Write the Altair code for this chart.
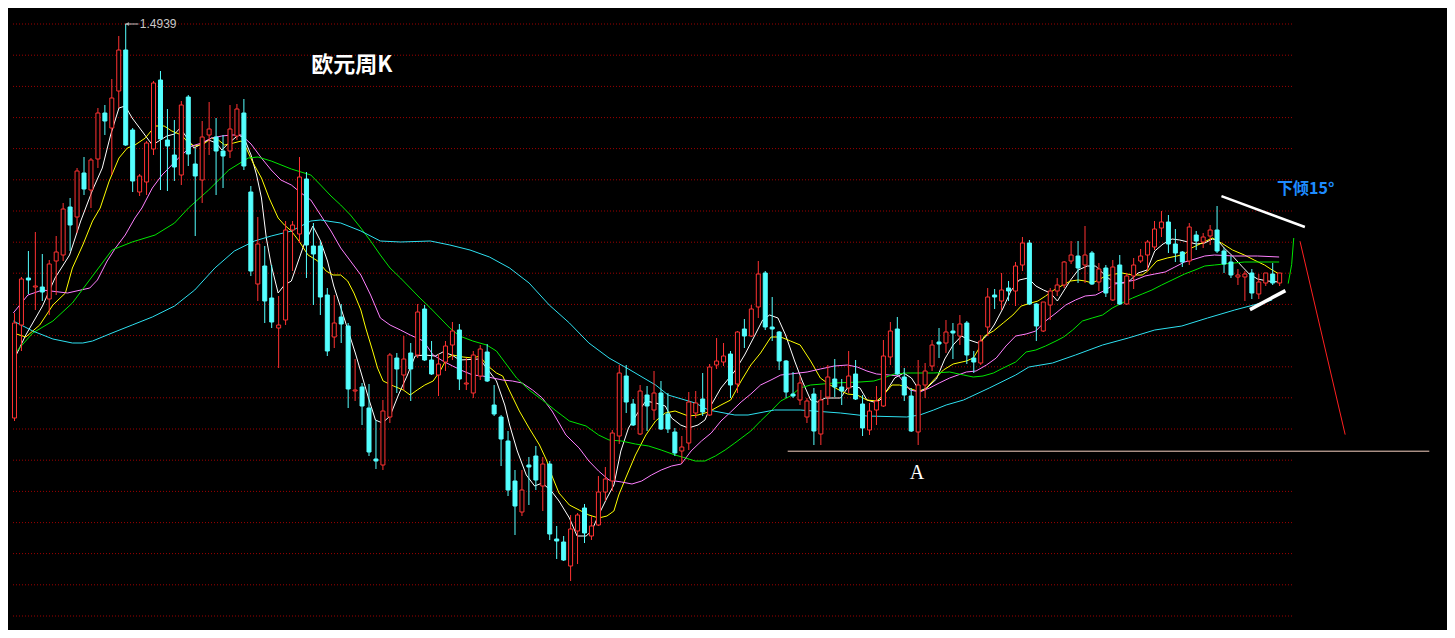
import altair as alt
import pandas as pd

# ---------------- data (EUR weekly candles) ----------------
weeks = list(range(183))

open_ = [1.2969, 1.3434, 1.3669, 1.3624, 1.3624, 1.3564, 1.3754, 1.3784, 1.4024, 1.3974,
         1.4194, 1.4109, 1.4264, 1.4494, 1.4419, 1.4604, 1.4809, 1.4409, 1.4099, 1.4149,
         1.4314, 1.4659, 1.4359, 1.4284, 1.4184, 1.4574, 1.4239, 1.4159, 1.4384, 1.4374,
         1.4304, 1.4304, 1.4379, 1.4494, 1.4099, 1.3639, 1.3729, 1.3569, 1.3419, 1.3459,
         1.3909, 1.3889, 1.4164, 1.3829, 1.3829, 1.3584, 1.3374, 1.3474, 1.3429, 1.3104,
         1.3124, 1.3019, 1.2764, 1.2734, 1.2974, 1.3269, 1.3184, 1.3294, 1.3284, 1.3514,
         1.3259, 1.3184, 1.3249, 1.3334, 1.3409, 1.3139, 1.3094, 1.3179, 1.3299, 1.3034,
         1.2974, 1.2854, 1.2654, 1.2499, 1.2734, 1.2779, 1.2629, 1.2739, 1.2364, 1.2349,
         1.2229, 1.2404, 1.2519, 1.2379, 1.2434, 1.2599, 1.2654, 1.2879, 1.3179, 1.3039,
         1.2889, 1.3084, 1.3009, 1.3094, 1.2989, 1.2899, 1.2804, 1.2844, 1.2994, 1.3064,
         1.2984, 1.3234, 1.3249, 1.3289, 1.3139, 1.3414, 1.3379, 1.3524, 1.3694, 1.3424,
         1.3399, 1.3254, 1.3089, 1.3059, 1.2974, 1.3089, 1.2889, 1.3074, 1.3164, 1.3124,
         1.3119, 1.3189, 1.3039, 1.2909, 1.3009, 1.3029, 1.3274, 1.3414, 1.3174, 1.3079,
         1.2899, 1.3134, 1.3229, 1.3349, 1.3344, 1.3404, 1.3379, 1.3444, 1.3269, 1.3244,
         1.3424, 1.3584, 1.3554, 1.3619, 1.3604, 1.3734, 1.3844, 1.3539, 1.3404, 1.3534,
         1.3604, 1.3634, 1.3754, 1.3779, 1.3734, 1.3794, 1.3649, 1.3719, 1.3559, 1.3734,
         1.3539, 1.3679, 1.3754, 1.3784, 1.3824, 1.3919, 1.3949, 1.3839, 1.3799, 1.3754,
         1.3884, 1.3849, 1.3879, 1.3909, 1.3804, 1.3749, 1.3674, 1.3674, 1.3694, 1.3589,
         1.3644, 1.3689, 1.3644]

close_ = [1.3444, 1.3664, 1.3659, 1.3629, 1.3599, 1.3739, 1.3799, 1.4014, 1.3934, 1.4204,
          1.4114, 1.4259, 1.4494, 1.4454, 1.4569, 1.4809, 1.4334, 1.4154, 1.4179, 1.4344,
          1.4644, 1.4364, 1.4329, 1.4224, 1.4534, 1.4289, 1.4179, 1.4374, 1.4414, 1.4304,
          1.4279, 1.4414, 1.4514, 1.4229, 1.3704, 1.3839, 1.3554, 1.3449, 1.3434, 1.3909,
          1.3934, 1.4174, 1.3834, 1.3789, 1.3574, 1.3304, 1.3444, 1.3439, 1.3114, 1.3109,
          1.3029, 1.2799, 1.2754, 1.3004, 1.3284, 1.3214, 1.3264, 1.3214, 1.3499, 1.3259,
          1.3189, 1.3239, 1.3329, 1.3404, 1.3164, 1.3144, 1.3284, 1.3314, 1.3154, 1.2989,
          1.2864, 1.2609, 1.2529, 1.2609, 1.2724, 1.2659, 1.2739, 1.2389, 1.2354, 1.2259,
          1.2414, 1.2484, 1.2394, 1.2429, 1.2599, 1.2664, 1.2894, 1.3194, 1.3049, 1.2934,
          1.3104, 1.3029, 1.3094, 1.2914, 1.2914, 1.2794, 1.2824, 1.3049, 1.3044, 1.2999,
          1.3224, 1.3254, 1.3279, 1.3134, 1.3399, 1.3379, 1.3514, 1.3689, 1.3424, 1.3414,
          1.3254, 1.3099, 1.3079, 1.3144, 1.3054, 1.2904, 1.3059, 1.3174, 1.3124, 1.3104,
          1.3179, 1.3064, 1.2919, 1.3004, 1.3054, 1.3279, 1.3404, 1.3189, 1.3084, 1.2904,
          1.3134, 1.3204, 1.3334, 1.3339, 1.3399, 1.3394, 1.3439, 1.3284, 1.3249, 1.3354,
          1.3574, 1.3574, 1.3609, 1.3604, 1.3729, 1.3844, 1.3539, 1.3429, 1.3549, 1.3604,
          1.3634, 1.3749, 1.3784, 1.3719, 1.3784, 1.3639, 1.3714, 1.3594, 1.3724, 1.3539,
          1.3679, 1.3734, 1.3779, 1.3849, 1.3914, 1.3949, 1.3839, 1.3794, 1.3749, 1.3924,
          1.3854, 1.3874, 1.3909, 1.3804, 1.3739, 1.3684, 1.3684, 1.3689, 1.3594, 1.3649,
          1.3694, 1.3644, 1.3694]

high_ = [1.3494, 1.3674, 1.3804, 1.3899, 1.3789, 1.3759, 1.3879, 1.4044, 1.4069, 1.4219,
         1.4274, 1.4269, 1.4519, 1.4534, 1.4664, 1.4879, 1.4939, 1.4419, 1.4189, 1.4354,
         1.4654, 1.4704, 1.4514, 1.4459, 1.4554, 1.4584, 1.4319, 1.4454, 1.4549, 1.4469,
         1.4384, 1.4534, 1.4539, 1.4564, 1.4129, 1.3974, 1.3829, 1.3734, 1.3579, 1.3954,
         1.3954, 1.4274, 1.4199, 1.3944, 1.3854, 1.3619, 1.3584, 1.3539, 1.3444, 1.3264,
         1.3144, 1.3139, 1.2959, 1.3059, 1.3294, 1.3294, 1.3379, 1.3344, 1.3539, 1.3534,
         1.3354, 1.3289, 1.3354, 1.3449, 1.3439, 1.3269, 1.3304, 1.3334, 1.3339, 1.3134,
         1.2984, 1.2904, 1.2709, 1.2709, 1.2774, 1.2829, 1.2774, 1.2754, 1.2429, 1.2379,
         1.2484, 1.2494, 1.2539, 1.2479, 1.2679, 1.2724, 1.2909, 1.3234, 1.3234, 1.3064,
         1.3134, 1.3129, 1.3204, 1.3154, 1.3094, 1.2919, 1.2879, 1.3099, 1.3104, 1.3194,
         1.3239, 1.3369, 1.3344, 1.3304, 1.3404, 1.3464, 1.3534, 1.3754, 1.3704, 1.3574,
         1.3404, 1.3259, 1.3199, 1.3179, 1.3069, 1.3119, 1.3109, 1.3234, 1.3264, 1.3164,
         1.3304, 1.3259, 1.3084, 1.3044, 1.3129, 1.3359, 1.3449, 1.3474, 1.3219, 1.3119,
         1.3259, 1.3244, 1.3359, 1.3419, 1.3459, 1.3444, 1.3484, 1.3454, 1.3304, 1.3384,
         1.3619, 1.3614, 1.3694, 1.3654, 1.3749, 1.3874, 1.3859, 1.3544, 1.3549, 1.3619,
         1.3669, 1.3754, 1.3854, 1.3854, 1.3929, 1.3804, 1.3744, 1.3734, 1.3759, 1.3784,
         1.3694, 1.3769, 1.3814, 1.3859, 1.3954, 1.4004, 1.3984, 1.3914, 1.3804, 1.3944,
         1.3904, 1.3894, 1.3934, 1.4029, 1.3819, 1.3779, 1.3714, 1.3704, 1.3714, 1.3689,
         1.3694, 1.3744, 1.3694]

low_ = [1.2954, 1.3304, 1.3589, 1.3509, 1.3554, 1.3484, 1.3584, 1.3754, 1.3804, 1.3894,
        1.4084, 1.4019, 1.4219, 1.4384, 1.4184, 1.4519, 1.4329, 1.4099, 1.4079, 1.4084,
        1.4284, 1.4109, 1.4104, 1.4154, 1.4134, 1.4229, 1.3879, 1.4044, 1.4284, 1.4084,
        1.4119, 1.4269, 1.4359, 1.4209, 1.3679, 1.3554, 1.3444, 1.3419, 1.3219, 1.3434,
        1.3704, 1.3844, 1.3669, 1.3534, 1.3484, 1.3279, 1.3319, 1.3344, 1.3019, 1.3054,
        1.2934, 1.2779, 1.2714, 1.2709, 1.2944, 1.3094, 1.3109, 1.3054, 1.3269, 1.3254,
        1.3184, 1.3079, 1.3204, 1.3259, 1.3109, 1.3109, 1.3069, 1.3159, 1.3149, 1.2979,
        1.2729, 1.2579, 1.2384, 1.2479, 1.2534, 1.2609, 1.2504, 1.2359, 1.2264, 1.2254,
        1.2154, 1.2239, 1.2344, 1.2359, 1.2429, 1.2554, 1.2604, 1.2839, 1.2994, 1.2929,
        1.2884, 1.2904, 1.2959, 1.2909, 1.2894, 1.2779, 1.2744, 1.2809, 1.2969, 1.2979,
        1.2979, 1.3214, 1.3229, 1.3069, 1.3094, 1.3319, 1.3374, 1.3469, 1.3409, 1.3354,
        1.3209, 1.3069, 1.3069, 1.3034, 1.2944, 1.2834, 1.2834, 1.3034, 1.3074, 1.3034,
        1.3094, 1.3059, 1.2879, 1.2884, 1.2934, 1.3024, 1.3234, 1.3184, 1.3054, 1.2899,
        1.2834, 1.3069, 1.3204, 1.3269, 1.3294, 1.3264, 1.3334, 1.3239, 1.3194, 1.3234,
        1.3379, 1.3514, 1.3509, 1.3554, 1.3529, 1.3704, 1.3534, 1.3354, 1.3399, 1.3459,
        1.3579, 1.3619, 1.3739, 1.3644, 1.3644, 1.3634, 1.3604, 1.3574, 1.3554, 1.3534,
        1.3534, 1.3614, 1.3744, 1.3704, 1.3809, 1.3874, 1.3794, 1.3749, 1.3724, 1.3734,
        1.3809, 1.3819, 1.3834, 1.3794, 1.3694, 1.3669, 1.3634, 1.3554, 1.3564, 1.3564,
        1.3629, 1.3634, 1.3629]

# moving averages as (week, price) readings
ma5 = [(-0.1, 1.3254), (1.7, 1.3384), (4.1, 1.3529), (5.9, 1.3669), (8.0, 1.3784), (9.6, 1.3954),
       (11.3, 1.4109), (12.7, 1.4219), (13.9, 1.4384), (15.1, 1.4519), (16.0, 1.4529), (17.0, 1.4469),
       (18.4, 1.4404), (19.9, 1.4334), (22.0, 1.4379), (23.1, 1.4389), (23.9, 1.4419), (24.6, 1.4384),
       (25.9, 1.4319), (28.0, 1.4359), (29.1, 1.4344), (29.9, 1.4309), (30.9, 1.4344), (32.3, 1.4384),
       (33.1, 1.4369), (34.1, 1.4284), (34.9, 1.4184), (35.6, 1.4069), (36.3, 1.3869), (37.0, 1.3734),
       (38.0, 1.3594), (38.9, 1.3634), (39.9, 1.3654), (40.9, 1.3754), (41.7, 1.3834), (43.0, 1.3929),
       (44.1, 1.3854), (45.1, 1.3754), (46.0, 1.3629), (47.4, 1.3479), (49.1, 1.3294), (51.0, 1.3069),
       (52.0, 1.2959), (53.0, 1.2944), (54.1, 1.2979), (55.3, 1.3084), (56.6, 1.3184), (57.7, 1.3279),
       (59.1, 1.3284), (60.6, 1.3279), (61.7, 1.3299), (63.0, 1.3284), (64.1, 1.3259), (67.0, 1.3264),
       (68.0, 1.3219), (69.4, 1.3154), (70.6, 1.3034), (71.3, 1.2934), (72.4, 1.2804), (73.7, 1.2684),
       (74.9, 1.2629), (76.0, 1.2644), (77.3, 1.2604), (78.4, 1.2554), (79.9, 1.2469), (81.0, 1.2379),
       (82.3, 1.2379), (83.1, 1.2404), (84.1, 1.2484), (85.3, 1.2569), (86.3, 1.2634), (87.3, 1.2804),
       (88.4, 1.2919), (89.9, 1.3004), (90.9, 1.3054), (92.3, 1.3044), (93.7, 1.3029), (94.6, 1.2969),
       (95.9, 1.2934), (97.0, 1.2919), (98.4, 1.2934), (99.4, 1.2959), (100.3, 1.3034), (101.7, 1.3119),
       (103.7, 1.3204), (105.1, 1.3284), (106.6, 1.3384), (107.7, 1.3459), (108.7, 1.3484), (109.9, 1.3469),
       (111.0, 1.3384), (112.3, 1.3254), (113.4, 1.3154), (114.6, 1.3059), (115.6, 1.3049), (116.7, 1.3069),
       (118.9, 1.3069), (119.9, 1.3119), (120.9, 1.3129), (121.7, 1.3119), (122.7, 1.3059), (123.7, 1.3049),
       (124.6, 1.3059), (125.6, 1.3109), (126.7, 1.3169), (128.0, 1.3194), (129.1, 1.3169), (130.3, 1.3104),
       (131.3, 1.3119), (132.7, 1.3164), (133.9, 1.3264), (135.1, 1.3334), (136.3, 1.3379), (137.4, 1.3359),
       (138.7, 1.3344), (139.9, 1.3379), (141.0, 1.3434), (142.3, 1.3519), (143.4, 1.3604), (144.6, 1.3659),
       (145.9, 1.3669), (147.0, 1.3629), (148.1, 1.3609), (149.1, 1.3594), (150.1, 1.3554), (151.0, 1.3604),
       (152.0, 1.3659), (153.1, 1.3709), (154.4, 1.3729), (155.6, 1.3729), (156.6, 1.3694), (157.4, 1.3669),
       (158.4, 1.3644), (159.6, 1.3644), (160.6, 1.3659), (161.7, 1.3694), (163.0, 1.3709), (164.1, 1.3804),
       (165.3, 1.3839), (166.6, 1.3864), (167.7, 1.3859), (168.9, 1.3849), (170.1, 1.3839), (171.3, 1.3844),
       (172.4, 1.3864), (173.1, 1.3859), (174.1, 1.3819), (175.3, 1.3779), (176.6, 1.3729), (177.7, 1.3689),
       (178.9, 1.3664), (180.3, 1.3654), (182.0, 1.3649)]

ma10 = [(-0.1, 1.3394), (1.7, 1.3374), (3.7, 1.3434), (5.6, 1.3534), (7.4, 1.3594), (8.4, 1.3719),
        (9.9, 1.3834), (11.3, 1.3954), (12.4, 1.4019), (13.7, 1.4154), (15.1, 1.4269), (16.3, 1.4319),
        (17.4, 1.4334), (18.9, 1.4369), (20.3, 1.4429), (21.6, 1.4429), (22.7, 1.4404), (24.1, 1.4384),
        (25.1, 1.4344), (26.0, 1.4329), (27.3, 1.4339), (28.4, 1.4369), (29.4, 1.4359), (30.3, 1.4334),
        (31.6, 1.4344), (32.7, 1.4354), (33.4, 1.4319), (34.4, 1.4244), (35.6, 1.4169), (36.7, 1.4069),
        (38.0, 1.3969), (38.9, 1.3934), (39.9, 1.3904), (41.0, 1.3854), (42.3, 1.3784), (43.7, 1.3754),
        (44.9, 1.3704), (45.9, 1.3684), (47.0, 1.3684), (48.0, 1.3654), (48.9, 1.3594), (49.9, 1.3509),
        (50.6, 1.3419), (51.6, 1.3304), (52.3, 1.3219), (53.1, 1.3154), (54.6, 1.3129), (56.0, 1.3109),
        (57.0, 1.3084), (58.0, 1.3109), (59.1, 1.3134), (60.3, 1.3154), (61.3, 1.3204), (62.3, 1.3269),
        (63.1, 1.3284), (64.6, 1.3274), (66.0, 1.3269), (67.0, 1.3279), (68.0, 1.3234), (69.4, 1.3194),
        (70.3, 1.3179), (71.3, 1.3104), (72.7, 1.3004), (74.1, 1.2919), (75.6, 1.2834), (76.6, 1.2759),
        (77.4, 1.2679), (78.4, 1.2594), (79.9, 1.2534), (81.3, 1.2509), (82.7, 1.2484), (84.1, 1.2469),
        (85.3, 1.2479), (86.3, 1.2504), (87.0, 1.2584), (88.0, 1.2669), (89.4, 1.2784), (90.9, 1.2884),
        (92.3, 1.2954), (93.7, 1.2994), (95.1, 1.3004), (97.0, 1.2979), (98.4, 1.2984), (99.9, 1.2999),
        (101.7, 1.3034), (103.1, 1.3059), (104.6, 1.3154), (106.0, 1.3234), (107.4, 1.3294), (108.9, 1.3374),
        (110.3, 1.3374), (111.7, 1.3354), (113.1, 1.3334), (114.6, 1.3254), (116.0, 1.3169), (117.4, 1.3134),
        (118.7, 1.3109), (119.9, 1.3089), (121.3, 1.3084), (122.7, 1.3059), (124.1, 1.3054), (125.1, 1.3084),
        (126.3, 1.3134), (127.4, 1.3134), (128.7, 1.3119), (129.9, 1.3104), (131.0, 1.3109), (132.3, 1.3159),
        (133.7, 1.3209), (135.1, 1.3239), (137.0, 1.3254), (138.0, 1.3269), (138.7, 1.3309), (139.6, 1.3379),
        (140.9, 1.3404), (142.3, 1.3444), (143.7, 1.3484), (144.9, 1.3529), (146.3, 1.3544), (147.3, 1.3554),
        (148.4, 1.3579), (149.6, 1.3609), (150.9, 1.3634), (152.0, 1.3654), (153.1, 1.3659), (154.1, 1.3654),
        (155.1, 1.3644), (156.0, 1.3659), (157.0, 1.3679), (158.4, 1.3689), (159.4, 1.3694), (160.9, 1.3684),
        (162.3, 1.3684), (163.1, 1.3704), (164.4, 1.3754), (165.9, 1.3769), (167.3, 1.3779), (168.4, 1.3789),
        (169.4, 1.3819), (170.9, 1.3844), (172.4, 1.3869), (173.7, 1.3844), (175.3, 1.3809), (177.0, 1.3784),
        (178.4, 1.3759), (179.9, 1.3734), (181.0, 1.3709), (182.0, 1.3689)]

ma20 = [(-0.1, 1.3494), (2.0, 1.3584), (4.1, 1.3609), (7.7, 1.3594), (10.9, 1.3619), (12.0, 1.3659),
        (13.4, 1.3754), (14.6, 1.3819), (16.0, 1.3884), (17.4, 1.3969), (18.4, 1.4019), (19.9, 1.4119),
        (21.3, 1.4184), (22.7, 1.4234), (24.1, 1.4284), (25.6, 1.4329), (27.0, 1.4344), (28.4, 1.4369),
        (29.9, 1.4379), (31.3, 1.4384), (32.7, 1.4384), (34.1, 1.4339), (35.6, 1.4269), (37.0, 1.4209),
        (38.4, 1.4159), (39.9, 1.4134), (41.3, 1.4094), (42.7, 1.4059), (44.1, 1.3984), (45.6, 1.3904),
        (47.0, 1.3819), (48.4, 1.3754), (49.9, 1.3684), (51.3, 1.3584), (52.7, 1.3469), (54.1, 1.3434),
        (55.6, 1.3409), (57.0, 1.3384), (58.9, 1.3354), (60.3, 1.3284), (61.7, 1.3254), (63.1, 1.3229),
        (64.6, 1.3204), (66.0, 1.3184), (67.4, 1.3179), (68.9, 1.3169), (70.3, 1.3159), (71.7, 1.3154),
        (73.1, 1.3144), (74.6, 1.3109), (76.0, 1.3069), (77.4, 1.3004), (78.4, 1.2944), (79.4, 1.2884),
        (81.3, 1.2819), (82.7, 1.2754), (84.1, 1.2704), (85.6, 1.2659), (87.4, 1.2649), (88.9, 1.2639),
        (90.3, 1.2654), (91.7, 1.2684), (93.1, 1.2709), (94.6, 1.2729), (96.0, 1.2739), (97.4, 1.2804),
        (98.9, 1.2854), (100.3, 1.2894), (101.7, 1.2954), (103.1, 1.2999), (104.6, 1.3049), (106.0, 1.3089),
        (107.4, 1.3134), (108.9, 1.3159), (110.3, 1.3184), (111.7, 1.3189), (114.1, 1.3199), (116.0, 1.3214),
        (118.0, 1.3229), (119.9, 1.3234), (121.3, 1.3224), (122.7, 1.3204), (124.1, 1.3189), (125.9, 1.3184),
        (127.3, 1.3179), (128.9, 1.3109), (130.3, 1.3099), (131.7, 1.3119), (133.1, 1.3144), (134.6, 1.3169),
        (137.0, 1.3199), (138.4, 1.3204), (139.9, 1.3234), (141.3, 1.3269), (142.7, 1.3329), (144.1, 1.3379),
        (145.6, 1.3389), (147.0, 1.3404), (148.4, 1.3454), (149.9, 1.3494), (151.3, 1.3534), (152.7, 1.3559),
        (154.1, 1.3579), (155.6, 1.3584), (157.0, 1.3609), (158.4, 1.3639), (159.9, 1.3649), (161.3, 1.3659),
        (162.7, 1.3679), (164.1, 1.3689), (165.6, 1.3699), (167.0, 1.3724), (168.4, 1.3749), (169.9, 1.3764),
        (171.3, 1.3779), (172.7, 1.3784), (175.6, 1.3779), (178.9, 1.3779), (182.0, 1.3774)]

ma30 = [(-0.1, 1.3284), (2.7, 1.3394), (5.6, 1.3454), (8.4, 1.3544), (11.3, 1.3679), (14.1, 1.3809),
        (17.0, 1.3849), (20.3, 1.3884), (23.1, 1.3944), (25.1, 1.4019), (28.0, 1.4109), (30.9, 1.4209),
        (33.7, 1.4269), (35.1, 1.4274), (37.0, 1.4254), (39.9, 1.4214), (42.7, 1.4184), (44.1, 1.4134),
        (45.6, 1.4079), (47.0, 1.4034), (48.4, 1.3984), (49.9, 1.3919), (51.3, 1.3854), (52.7, 1.3784),
        (54.1, 1.3719), (55.6, 1.3669), (57.0, 1.3619), (58.4, 1.3569), (59.9, 1.3519), (61.3, 1.3469),
        (62.7, 1.3419), (64.1, 1.3379), (66.0, 1.3354), (68.0, 1.3334), (69.4, 1.3304), (70.9, 1.3234),
        (72.3, 1.3169), (74.1, 1.3109), (76.0, 1.3059), (78.0, 1.3004), (79.9, 1.2954), (82.3, 1.2929),
        (84.1, 1.2884), (85.6, 1.2859), (87.4, 1.2854), (89.4, 1.2839), (91.3, 1.2829), (93.1, 1.2809),
        (95.1, 1.2784), (96.6, 1.2769), (98.0, 1.2754), (99.4, 1.2754), (100.9, 1.2779), (102.3, 1.2809),
        (103.7, 1.2844), (106.0, 1.2904), (107.4, 1.2954), (108.9, 1.3004), (110.3, 1.3054), (111.7, 1.3079),
        (113.1, 1.3119), (114.6, 1.3134), (118.0, 1.3144), (121.7, 1.3149), (123.7, 1.3154), (125.1, 1.3169),
        (126.6, 1.3189), (128.4, 1.3194), (132.3, 1.3194), (134.6, 1.3199), (136.6, 1.3184), (138.0, 1.3174),
        (139.4, 1.3179), (140.9, 1.3194), (142.3, 1.3219), (144.1, 1.3249), (145.6, 1.3299), (147.0, 1.3309),
        (148.4, 1.3329), (149.9, 1.3354), (151.0, 1.3374), (152.3, 1.3409), (153.7, 1.3454), (155.1, 1.3469),
        (156.6, 1.3484), (158.0, 1.3519), (159.4, 1.3544), (160.9, 1.3569), (162.3, 1.3589), (163.7, 1.3609),
        (165.1, 1.3634), (166.6, 1.3659), (168.4, 1.3689), (169.9, 1.3709), (171.3, 1.3729), (172.7, 1.3734),
        (174.1, 1.3739), (177.0, 1.3749), (182.0, 1.3749)]

ma60 = [(-0.1, 1.3454), (2.7, 1.3404), (5.6, 1.3364), (8.4, 1.3344), (9.9, 1.3344), (11.3, 1.3354),
        (14.1, 1.3394), (17.0, 1.3434), (19.9, 1.3474), (23.1, 1.3529), (26.0, 1.3609), (28.9, 1.3719),
        (31.7, 1.3804), (34.6, 1.3854), (37.0, 1.3879), (39.9, 1.3904), (42.7, 1.3954), (44.1, 1.3959),
        (47.0, 1.3944), (49.9, 1.3904), (52.7, 1.3854), (55.6, 1.3849), (59.9, 1.3854), (62.7, 1.3834),
        (65.6, 1.3809), (68.4, 1.3774), (71.3, 1.3719), (74.1, 1.3644), (77.0, 1.3534), (79.9, 1.3444),
        (82.7, 1.3344), (85.6, 1.3269), (88.4, 1.3214), (92.3, 1.3134), (94.1, 1.3084), (98.0, 1.3044),
        (99.9, 1.3009), (103.7, 1.2984), (105.6, 1.2984), (109.4, 1.3009), (113.1, 1.3009), (118.9, 1.2994),
        (122.7, 1.2979), (128.4, 1.2974), (130.3, 1.2984), (132.3, 1.3009), (134.1, 1.3034), (136.6, 1.3059),
        (140.3, 1.3119), (144.1, 1.3184), (146.0, 1.3224), (149.4, 1.3244), (152.7, 1.3284), (156.6, 1.3334),
        (160.3, 1.3369), (164.1, 1.3409), (168.0, 1.3429), (171.7, 1.3469), (175.6, 1.3509), (179.4, 1.3544),
        (181.0, 1.3559)]

ma_names = ["MA5", "MA10", "MA20", "MA30", "MA60"]
ma_colors = ["#FFFFFF", "#FFFF00", "#FF80FF", "#00E600", "#2EE0F0"]

# horizontal dotted grid levels
grid_levels = [1.4939, 1.4783, 1.4627, 1.4471, 1.4316, 1.4160, 1.4004, 1.3848, 1.3693, 1.3537,
               1.3381, 1.3225, 1.3070, 1.2914, 1.2758, 1.2602, 1.2446, 1.2291, 1.2135, 1.1979]
grid_span = (-0.14, 184.1)

# drawn annotations (week, price)
trend_top = [(173.7, 1.4078), (185.7, 1.3924)]
trend_bottom = [(177.8, 1.3511), (182.9, 1.3606)]
proj_up = [(183.3, 1.3641), (183.8, 1.3736), (184.1, 1.3869)]
proj_down = [(185.0, 1.3853), (191.5, 1.2886)]
support_a = [(111.3, 1.2803), (203.6, 1.2803)]
peak_arrow = [(16.0, 1.4939), (17.9, 1.4939)]

title_text = ("欧元周K", 48.6, 1.4734)
tilt_text = ("下倾15°", 181.7, 1.4114)
a_text = ("A", 129.9, 1.2694)
peak_text = ("1.4939", 18.1, 1.4939)

RED = "#FF3232"
CYAN = "#54FFFF"

# ---------------- chart ----------------
xs = alt.Scale(domain=[-1 / 7, 1438 / 7], nice=False, zero=False)
ys = alt.Scale(domain=[1.1909, 1.5019], nice=False, zero=False)


def X(f="week"):
    return alt.X(f"{f}:Q", scale=xs, axis=None)


def Y(f="price"):
    return alt.Y(f"{f}:Q", scale=ys, axis=None)


def pts(pairs):
    return pd.DataFrame(pairs, columns=["week", "price"])


candles = pd.DataFrame({"week": weeks, "open": open_, "close": close_,
                        "high": high_, "low": low_})
candles["dir"] = ["up" if c >= o else "down" for o, c in zip(open_, close_)]
up_filter = "datum.dir == 'up'"
down_filter = "datum.dir == 'down'"

grid_df = pd.DataFrame({"price": grid_levels, "x0": grid_span[0], "x1": grid_span[1]})
grid = alt.Chart(grid_df).mark_rule(color="#A00000", strokeWidth=1, strokeDash=[1, 2]).encode(
    x=X("x0"), x2="x1:Q", y=Y())

wicks_up = alt.Chart(candles).transform_filter(up_filter).mark_rule(
    color=RED, strokeWidth=1, xOffset=0.5).encode(x=X(), y=Y("low"), y2="high:Q")
wicks_down = alt.Chart(candles).transform_filter(down_filter).mark_rule(
    color=CYAN, strokeWidth=1, xOffset=0.5).encode(x=X(), y=Y("low"), y2="high:Q")

bodies_up = alt.Chart(candles).transform_filter(up_filter).mark_bar(
    width=4, fill="#000000", stroke=RED, strokeWidth=1, xOffset=0.5).encode(
    x=X(), y=Y("open"), y2="close:Q")
bodies_down = alt.Chart(candles).transform_filter(down_filter).mark_bar(
    width=4, fill=CYAN, stroke=CYAN, strokeWidth=1, xOffset=0.5).encode(
    x=X(), y=Y("open"), y2="close:Q")

ma_frames = []
for name, pairs in zip(ma_names, [ma5, ma10, ma20, ma30, ma60]):
    f = pts(pairs)
    f["series"] = name
    ma_frames.append(f)
ma_df = pd.concat(ma_frames, ignore_index=True)
ma_lines = alt.Chart(ma_df).mark_line(strokeWidth=1).encode(
    x=X(), y=Y(),
    color=alt.Color("series:N", scale=alt.Scale(domain=ma_names, range=ma_colors), legend=None),
    detail="series:N")


def seg(pairs, color, width):
    return alt.Chart(pts(pairs)).mark_line(color=color, strokeWidth=width).encode(x=X(), y=Y())


top_line = seg(trend_top, "#FFFFFF", 2.5)
bottom_line = seg(trend_bottom, "#FFFFFF", 3.5)
up_line = seg(proj_up, "#00E600", 1)
down_line = seg(proj_down, "#FF2020", 1)
a_line = seg(support_a, "#F5D0C0", 1)
arrow_line = seg(peak_arrow, "#C8C8C8", 1)
arrow_head = alt.Chart(pts(peak_arrow[:1])).mark_point(
    shape="triangle-left", filled=True, size=18, color="#C8C8C8", xOffset=2).encode(x=X(), y=Y())


def label(spec, color, size, font, weight="normal", align="center"):
    t, w, p = spec
    d = pd.DataFrame({"week": [w], "price": [p], "text": [t]})
    return alt.Chart(d).mark_text(color=color, fontSize=size, font=font, fontWeight=weight,
                                  align=align, baseline="middle").encode(x=X(), y=Y(), text="text:N")


title_lbl = label(title_text, "#FFFFFF", 22, "Noto Sans CJK SC", "bold")
tilt_lbl = label(tilt_text, "#1E8CFF", 16, "Noto Sans CJK SC", "bold", "left")
a_lbl = label(a_text, "#FFFFFF", 20, "Liberation Serif")
peak_lbl = label(peak_text, "#C8C8C8", 12, "Liberation Sans", "normal", "left")

chart = alt.layer(
    grid, ma_lines, wicks_up, wicks_down, bodies_up, bodies_down,
    top_line, bottom_line, up_line, down_line, a_line, arrow_line, arrow_head,
    title_lbl, tilt_lbl, a_lbl, peak_lbl,
).properties(
    width=1439, height=622, background="#000000", padding=0,
    autosize=alt.AutoSizeParams(type="fit", contains="padding"),
).configure_view(strokeWidth=0)

chart.save("out.html", embed_options={"renderer": "svg", "actions": False})
